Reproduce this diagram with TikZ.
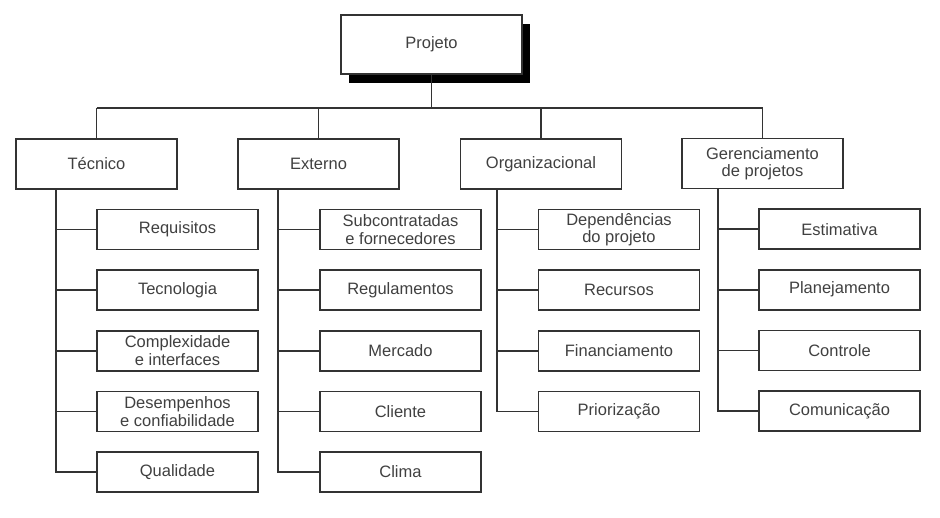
\documentclass[tikz,border=0pt]{standalone}
\usepackage{fontspec}
\setmainfont{Liberation Sans}
\usetikzlibrary{positioning,shadows}

\begin{document}
\begin{tikzpicture}[
	x=1pt, y=-1pt,
	line width=1.6pt, color=black!80,
	font=\fontsize{16.5}{17.5}\selectfont,
	node distance=19pt,
	top/.style={rectangle, draw=black!80, fill=white, text=black!75, minimum width=181pt, minimum height=59pt,
		drop shadow={shadow xshift=8pt, shadow yshift=-9pt, fill=black, opacity=1}},
	area/.style={rectangle, draw=black!80, text=black!75, inner ysep=1pt, minimum width=161pt, minimum height=50pt, align=center},
	item/.style={rectangle, draw=black!80, text=black!75, inner ysep=1pt, minimum width=161pt, minimum height=40pt, align=center}
]
\useasboundingbox (0,0) rectangle (940,517);
\node[top] (proj) at (431.5,44.5) {Projeto};
\node[area] (tec) at (96.5,164) {Técnico};
\node[area] (ext) at (318.5,164) {Externo};
\node[area] (org) at (541,164) {Organizacional};
\node[area] (ger) at (762.5,163.5) {Gerenciamento\\de projetos};
% tecnico
\node[item] (req) [below right=19pt and 81pt of tec.south west] {Requisitos};
\node[item] (tecn) [below=of req] {Tecnologia};
\node[item] (comp) [below=of tecn] {Complexidade\\e interfaces};
\node[item] (dese) [below=of comp] {Desempenhos\\e confiabilidade};
\node[item] (qual) [below=of dese] {Qualidade};
% externo
\node[item] (subc) [below right=19pt and 82pt of ext.south west] {Subcontratadas\\e fornecedores};
\node[item] (regu) [below=of subc] {Regulamentos};
\node[item] (merc) [below=of regu] {Mercado};
\node[item] (clie) [below=of merc] {Cliente};
\node[item] (clim) [below=of clie] {Clima};
% organizacional
\node[item] (depe) [below right=19pt and 78pt of org.south west] {Dependências\\do projeto};
\node[item] (recu) [below=of depe] {Recursos};
\node[item] (fina) [below=of recu] {Financiamento};
\node[item] (prio) [below=of fina] {Priorização};
% gerenciamento
\node[item] (esti) [below right=19pt and 77pt of ger.south west] {Estimativa};
\node[item] (plan) [below=of esti] {Planejamento};
\node[item] (cont) [below=of plan] {Controle};
\node[item] (comu) [below=of cont] {Comunicação};

\coordinate (bus) at (431.5,108);
\draw (proj.south) -- (bus);
\draw (bus -| tec.north) -- (bus -| ger.north);
\draw (bus -| tec.north) -- (tec.north);
\draw (bus -| ext.north) -- (ext.north);
\draw (bus -| org.north) -- (org.north);
\draw (bus -| ger.north) -- (ger.north);

\draw ([xshift=41pt]tec.south west) |- (req.west);
\draw ([xshift=41pt]tec.south west) |- (tecn.west);
\draw ([xshift=41pt]tec.south west) |- (comp.west);
\draw ([xshift=41pt]tec.south west) |- (dese.west);
\draw ([xshift=41pt]tec.south west) |- (qual.west);
\draw ([xshift=41pt]ext.south west) |- (subc.west);
\draw ([xshift=41pt]ext.south west) |- (regu.west);
\draw ([xshift=41pt]ext.south west) |- (merc.west);
\draw ([xshift=41pt]ext.south west) |- (clie.west);
\draw ([xshift=41pt]ext.south west) |- (clim.west);
\draw ([xshift=37.5pt]org.south west) |- (depe.west);
\draw ([xshift=37.5pt]org.south west) |- (recu.west);
\draw ([xshift=37.5pt]org.south west) |- (fina.west);
\draw ([xshift=37.5pt]org.south west) |- (prio.west);
\draw ([xshift=37pt]ger.south west) |- (esti.west);
\draw ([xshift=37pt]ger.south west) |- (plan.west);
\draw ([xshift=37pt]ger.south west) |- (cont.west);
\draw ([xshift=37pt]ger.south west) |- (comu.west);
\end{tikzpicture}
\end{document}
